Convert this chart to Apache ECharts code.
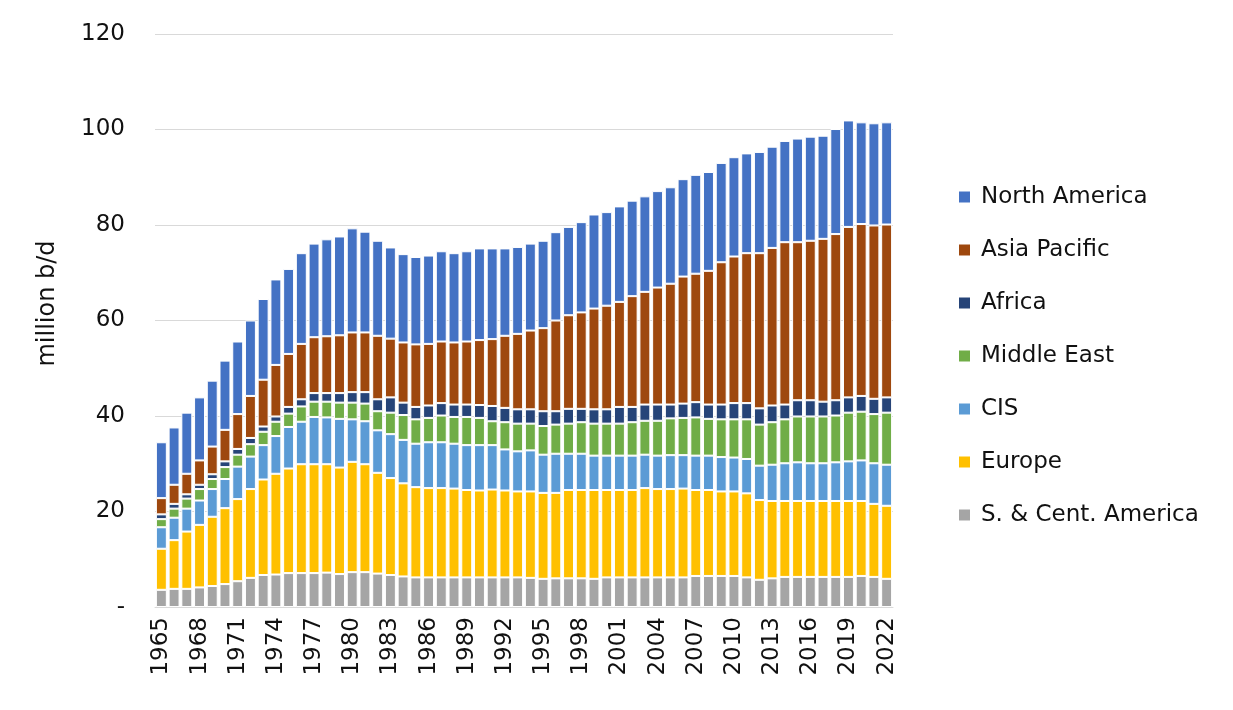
<!DOCTYPE html>
<html>
<head>
<meta charset="utf-8">
<script src="https://cdn.jsdelivr.net/npm/echarts@6/dist/echarts.min.js"></script>
<style>
  html, body { margin: 0; padding: 0; background: #ffffff; }
  #chart { width: 1233px; height: 710px; }
</style>
</head>
<body>
<div id="chart"></div>
<script>
const years = [];
for (let y = 1965; y <= 2022; y++) years.push(String(y));

const yTicks = [0, 20, 40, 60, 80, 100, 120];

const sCentAmerica = [3.6,3.8,3.8,4.1,4.4,4.8,5.4,6.1,6.7,6.8, 7.1,7.1,7.1,7.2,6.9,7.3,7.3,7.0,6.7,6.4, 6.2,6.2,6.2,6.2,6.2,6.2,6.2,6.2,6.2,6.1, 5.9,6.0,6.0,6.0,5.9,6.2,6.2,6.2,6.2,6.2, 6.2,6.2,6.5,6.5,6.5,6.5,6.2,5.7,6.0,6.3, 6.3,6.3,6.3,6.3,6.3,6.5,6.3,5.9];
const europe = [8.6,10.2,12.0,13.1,14.5,15.9,17.2,18.6,20.0,21.1, 21.9,22.8,22.8,22.7,22.3,23.1,22.6,21.1,20.3,19.5, 18.9,18.7,18.7,18.6,18.3,18.2,18.4,18.2,18.0,18.1, 18.0,17.9,18.5,18.5,18.6,18.3,18.3,18.3,18.7,18.5, 18.5,18.6,18.0,18.0,17.7,17.7,17.6,16.7,16.2,15.9, 15.9,15.9,15.9,15.9,15.9,15.7,15.3,15.3];
const cis = [4.5,4.7,4.8,5.1,5.8,6.1,6.8,6.8,7.2,7.9, 8.7,8.9,9.9,9.8,10.2,8.9,9.0,8.9,9.2,9.1, 9.1,9.6,9.6,9.4,9.4,9.5,9.3,8.6,8.4,8.6, 8.0,8.2,7.6,7.6,7.2,7.2,7.2,7.2,7.0,7.0, 7.1,7.0,7.2,7.2,7.2,7.1,7.2,7.2,7.6,7.9, 8.1,7.9,7.9,8.1,8.3,8.5,8.5,8.6];
const middleEast = [1.7,1.9,2.1,2.4,2.1,2.5,2.5,2.6,2.8,3.0, 2.8,3.2,3.2,3.3,3.4,3.5,3.7,4.0,4.5,5.2, 5.1,5.1,5.6,5.6,5.9,5.7,5.0,5.7,5.8,5.6, 6.0,6.1,6.3,6.6,6.7,6.7,6.7,7.0,7.1,7.3, 7.7,7.8,8.0,7.7,7.9,8.0,8.3,8.6,8.9,9.2, 9.6,9.8,9.8,9.8,10.2,10.2,10.3,10.9];
const africa = [1.0,1.0,0.9,0.9,1.0,1.2,1.2,1.3,1.1,1.1, 1.4,1.5,1.8,1.8,2.0,2.2,2.4,2.5,3.2,2.6, 2.6,2.6,2.6,2.6,2.6,2.7,3.2,3.0,3.0,3.0, 3.1,2.8,3.1,2.8,3.0,3.0,3.5,3.2,3.4,3.4, 2.9,3.0,3.2,3.0,3.1,3.4,3.4,3.4,3.5,3.1, 3.4,3.4,3.1,3.2,3.2,3.3,3.2,3.2];
const asiaPacific = [3.4,4.0,4.3,5.1,5.8,6.6,7.3,8.8,9.8,10.8, 11.1,11.6,11.7,11.9,12.1,12.5,12.5,13.3,12.3,12.6, 13.1,12.9,12.9,13.0,13.2,13.6,14.0,15.1,15.8,16.5, 17.4,19.0,19.6,20.2,21.1,21.7,22.0,23.2,23.6,24.5, 25.3,26.6,26.9,28.0,29.8,30.7,31.4,32.5,33.0,34.0, 33.1,33.4,34.1,34.8,35.7,36.0,36.3,36.2];
const northAmerica = [11.7,12.0,12.8,13.2,13.8,14.5,15.2,15.8,16.9,17.9, 17.8,19.0,19.6,20.3,20.7,21.8,21.1,19.9,19.1,18.5, 18.3,18.5,18.9,18.7,18.9,19.2,19.0,18.3,18.2,18.2, 18.3,18.5,18.5,18.9,19.7,19.6,20.0,20.0,20.0,20.2, 20.2,20.4,20.7,20.7,20.8,20.8,20.9,21.2,21.2,21.2, 21.7,21.8,21.6,22.0,22.3,21.3,21.4,21.4];

const seriesNames = ['S. & Cent. America', 'Europe', 'CIS', 'Middle East', 'Africa', 'Asia Pacific', 'North America'];
const seriesData = [sCentAmerica, europe, cis, middleEast, africa, asiaPacific, northAmerica];
const seriesColors = ['#A5A5A5', '#FFC000', '#5B9BD5', '#70AD47', '#264478', '#9E480E', '#4472C4'];
const legendOrder = ['North America', 'Asia Pacific', 'Africa', 'Middle East', 'CIS', 'Europe', 'S. & Cent. America'];

const FONT = "'DejaVu Sans', 'Noto Sans', sans-serif";
const TXT = '#111111';
const chart = echarts.init(document.getElementById('chart'), null, { renderer: 'canvas' });

chart.setOption({
  animation: false,
  backgroundColor: '#ffffff',
  textStyle: { fontFamily: FONT },
  grid: { left: 155, right: 340, top: 34, bottom: 103, containLabel: false },
  legend: {
    orient: 'vertical',
    left: 957,
    top: 185,
    padding: 0,
    data: legendOrder,
    icon: 'rect',
    itemWidth: 13,
    itemHeight: 13,
    itemGap: 29,
    textStyle: { fontFamily: FONT, fontSize: 23, lineHeight: 24, color: TXT, padding: [0, 0, 0, 5] }
  },
  xAxis: {
    type: 'category',
    data: years,
    axisTick: { show: false },
    axisLine: { show: true, lineStyle: { color: '#d9d9d9', width: 1 } },
    axisLabel: {
      interval: 2,
      rotate: 90,
      margin: 10,
      fontSize: 23,
      color: TXT,
      fontFamily: FONT
    }
  },
  yAxis: {
    type: 'value',
    min: yTicks[0],
    max: yTicks[yTicks.length - 1],
    interval: 20,
    name: 'million b/d',
    nameLocation: 'middle',
    nameRotate: 90,
    nameGap: 95,
    nameTextStyle: { fontSize: 24, color: TXT, fontFamily: FONT, padding: [0, 0, 0, 34] },
    axisLine: { show: false },
    axisTick: { show: false },
    axisLabel: {
      margin: 30,
      fontSize: 23,
      color: TXT,
      fontFamily: FONT,
      formatter: function (v) { return v === 0 ? '-' : String(v); }
    },
    splitLine: { show: true, lineStyle: { color: '#d9d9d9', width: 1 } }
  },
  series: seriesNames.map(function (name, i) {
    return {
      name: name,
      type: 'bar',
      stack: 'total',
      barCategoryGap: '14%',
      data: seriesData[i],
      itemStyle: { color: seriesColors[i], borderColor: '#ffffff', borderWidth: 1 },
      emphasis: { disabled: true }
    };
  })
});
</script>
</body>
</html>
